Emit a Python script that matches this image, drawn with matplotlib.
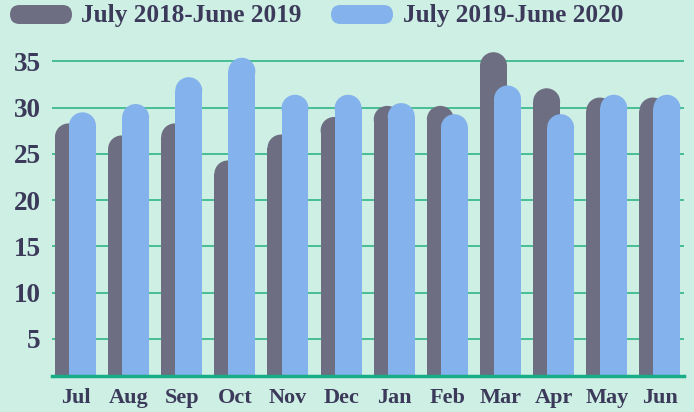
import matplotlib
matplotlib.use('Agg')
import matplotlib.pyplot as plt
from matplotlib.patches import Ellipse, FancyBboxPatch
from matplotlib.transforms import IdentityTransform
import numpy as np

months = ['Jul', 'Aug', 'Sep', 'Oct', 'Nov', 'Dec', 'Jan', 'Feb', 'Mar', 'Apr', 'May', 'Jun']
season1 = [28.3, 27.0, 28.3, 24.3, 27.1, 29.0, 30.2, 30.2, 36.0, 32.1, 31.1, 31.1]
season2 = [29.5, 30.4, 33.3, 35.4, 31.4, 31.4, 30.5, 29.3, 32.4, 29.3, 31.4, 31.4]
labels = ['July 2018-June 2019', 'July 2019-June 2020']
yticks = [5, 10, 15, 20, 25, 30, 35]

bg = '#ceefe4'
c1 = '#6e6e83'
c2 = '#84b2ec'
txt = '#3c3a5a'
grid_c = '#3cb98c'

fig = plt.figure(figsize=(6.94, 4.12), dpi=100, facecolor=bg)
ax = fig.add_axes([0.0746, 0.0874, 0.9104, 0.8034])
ax.set_facecolor(bg)
ax.set_xlim(-0.446, 11.446)
ax.set_ylim(1.0, 36.78)

for s in ['top', 'right', 'left']:
    ax.spines[s].set_visible(False)
ax.spines['bottom'].set_color('#17ad86')
ax.spines['bottom'].set_linewidth(2.5)
ax.spines['bottom'].set_zorder(5)

ax.set_yticks(yticks)
ax.set_yticklabels([str(t) for t in yticks])
ax.grid(axis='y', color=grid_c, linewidth=1.3)
ax.set_axisbelow(True)
x = np.arange(len(months))
ax.set_xticks(x)
ax.set_xticklabels(months)
ax.tick_params(axis='both', length=0, colors=txt)
ax.tick_params(axis='y', pad=8, labelsize=19.5)
ax.tick_params(axis='x', pad=9, labelsize=16)
for lab in ax.get_xticklabels() + ax.get_yticklabels():
    lab.set_fontfamily('Liberation Serif')
    lab.set_fontweight('bold')

# bar geometry: rounded tops drawn as ellipses that look circular on screen
w = 0.508
off = 0.132
fig.canvas.draw()
p0 = ax.transData.transform((0, 0))
p1 = ax.transData.transform((1, 1))
px_x = p1[0] - p0[0]
px_y = p1[1] - p0[1]
ry = (w * px_x / 2) / px_y

for vals, dx, col, z in [(season1, -off, c1, 2), (season2, off, c2, 3)]:
    ax.bar(x + dx, [v - ry for v in vals], width=w, color=col, zorder=z, linewidth=0)
    for xi, v in zip(x, vals):
        ax.add_patch(Ellipse((xi + dx, v - ry), w, 2 * ry, facecolor=col, edgecolor='none', zorder=z))

# legend drawn in pixel coordinates
H = 412
for (px, tx), col, lab in zip([(10, 81), (331, 403)], [c1, c2], labels):
    fig.add_artist(FancyBboxPatch((px, H - 24), 62, 19,
                                  boxstyle='round,pad=0,rounding_size=9.5',
                                  facecolor=col, edgecolor='none',
                                  transform=IdentityTransform()))
    fig.text(tx / 694, 1 - 15.5 / H, lab, color=txt, fontsize=18.2,
             fontfamily='Liberation Serif', fontweight='bold', va='center', ha='left')

fig.savefig('out.png', dpi=100, facecolor=bg)
